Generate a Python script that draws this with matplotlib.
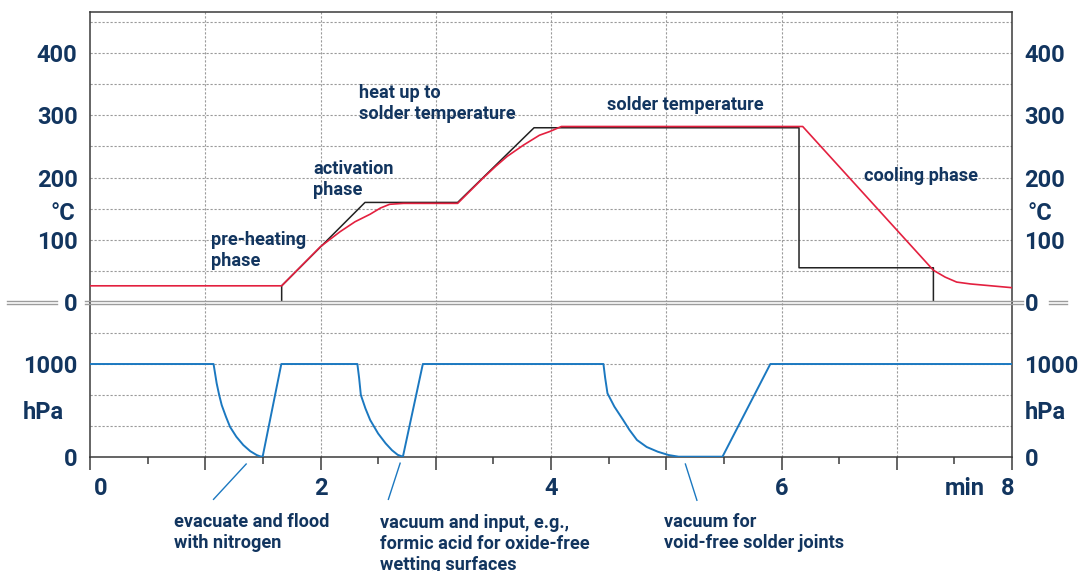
import matplotlib
matplotlib.use("Agg")
import matplotlib.pyplot as plt
from matplotlib.lines import Line2D

# ---------------- data ----------------
setpoint_t = [1.663, 1.663, 2.386, 3.19, 3.853, 6.152, 6.152, 7.318, 7.318]
setpoint_T = [0, 26, 160, 160, 280, 280, 55, 55, 0]

actual_t = [0, 1.663, 1.85, 2.0, 2.17, 2.3, 2.43, 2.52, 2.6, 2.72, 3.19, 3.41,
            3.52, 3.62, 3.76, 3.9, 3.99, 4.09, 6.184, 7.318, 7.42, 7.52, 7.64, 8.0]
actual_T = [26, 26, 61, 89, 113, 129, 141, 151, 157, 158.5, 158.5, 199,
            218, 234, 252, 268, 274, 282, 282, 51, 40, 32, 29, 23]

pressure_t = [0, 1.072, 1.085, 1.099, 1.12, 1.143, 1.18, 1.215, 1.27, 1.33, 1.39,
              1.446, 1.475, 1.498, 1.66,
              2.32, 2.335, 2.35, 2.39, 2.431, 2.5, 2.565, 2.62, 2.67, 2.715, 2.888,
              4.455, 4.47, 4.49, 4.55, 4.626, 4.68, 4.746, 4.83, 4.926, 5.02, 5.107,
              5.488, 5.903, 8.0]
pressure_P = [1000, 1000, 900, 792, 670, 556, 430, 322, 215, 126, 60,
              18, 4, 0, 1000,
              1000, 850, 666, 520, 396, 250, 144, 70, 20, 0, 1000,
              1000, 850, 684, 540, 396, 290, 180, 105, 54, 18, 0,
              0, 1000, 1000]

temp_ticks = [0, 100, 200, 300, 400]
temp_labels = ["0", "100", "200", "300", "400"]
press_ticks = [0, 1000]
press_labels = ["0", "1000"]
x_label_vals = [0, 2, 4, 6, 8]
x_label_texts = ["0", "2", "4", "6", "8"]

top_notes = ["pre-heating\nphase", "activation\nphase",
             "heat up to\nsolder temperature", "solder temperature", "cooling phase"]
# (x, baseline of last line)
top_note_pos = [(1.05, 58), (1.937, 172), (2.334, 294), (4.486, 309), (6.716, 194)]

bottom_notes = ["evacuate and flood\nwith nitrogen",
                "vacuum and input, e.g.,\nformic acid for oxide-free\nwetting surfaces",
                "vacuum for\nvoid-free solder joints"]
bottom_note_pos = [(0.729, -990), (2.512, -1222), (4.977, -990)]
leader_start = [(1.355, -79), (2.691, -70), (5.166, -79)]
leader_end = [(1.072, -460), (2.589, -460), (5.266, -470)]

# ---------------- style ----------------
W, H = 1083, 571
NAVY = "#12355f"
RED = "#e3203f"
BLUE = "#1b78c0"
BLACK = "#222222"
FRAME = "#3a3a3a"
GRID = "#9a9a9a"
FONT = ["Roboto", "DejaVu Sans"]
WEIGHT = "bold"
NOTE_SIZE = 13.1
plt.rcParams["font.family"] = FONT

fig = plt.figure(figsize=(W / 100, H / 100), dpi=100)

def fx(px):
    return px / W

def fy(py):
    return 1 - py / H

left, right = 90, 1012
ax_t = fig.add_axes([fx(left), fy(302), fx(right - left), (302 - 12) / H])
ax_b = fig.add_axes([fx(left), fy(456.7), fx(right - left), (456.7 - 302) / H])

# ---- top panel ----
ax_t.set_xlim(0, 8)
ax_t.set_ylim(0, 466)
ax_t.plot(setpoint_t, setpoint_T, color=BLACK, lw=1.1, zorder=3)
ax_t.plot(actual_t, actual_T, color=RED, lw=1.2, zorder=4)
for v in range(50, 460, 50):
    ax_t.axhline(v, color=GRID, lw=0.8, ls=(0, (2, 1.6)), zorder=1)
for v in range(1, 8):
    ax_t.axvline(v, color=GRID, lw=0.8, ls=(0, (2, 1.6)), zorder=1)
for s in ["top", "left", "right"]:
    ax_t.spines[s].set_color(FRAME)
    ax_t.spines[s].set_linewidth(1.1)
ax_t.spines["bottom"].set_visible(False)
ax_t.set_xticks([])
ax_t.set_yticks(temp_ticks)
ax_t.set_yticklabels(temp_labels)
ax_t.tick_params(axis="y", length=0, pad=9.0, labelleft=True, labelright=True,
                 labelsize=17, labelcolor=NAVY)
for tk in ax_t.yaxis.get_major_ticks():
    tk.label1.set_fontweight(WEIGHT)
    tk.label2.set_fontweight(WEIGHT)
for txt, (tx, ty) in zip(top_notes, top_note_pos):
    ax_t.text(tx, ty, txt, color=NAVY, fontsize=NOTE_SIZE, fontweight=WEIGHT,
              ha="left", va="baseline", linespacing=1.22, zorder=5)

# ---- bottom panel ----
ax_b.set_xlim(0, 8)
ax_b.set_ylim(0, 1669)
ax_b.plot(pressure_t, pressure_P, color=BLUE, lw=1.4, zorder=4)
for v in [1000 / 3, 2000 / 3, 1000, 4000 / 3]:
    ax_b.axhline(v, color=GRID, lw=0.8, ls=(0, (2, 1.6)), zorder=1)
for v in range(1, 8):
    ax_b.axvline(v, color=GRID, lw=0.8, ls=(0, (2, 1.6)), zorder=1)
ax_b.spines["top"].set_visible(False)
for s in ["bottom", "left", "right"]:
    ax_b.spines[s].set_color(FRAME)
    ax_b.spines[s].set_linewidth(1.1)
ax_b.set_xticks(range(0, 9))
ax_b.set_xticks([i + 0.5 for i in range(8)], minor=True)
ax_b.set_xticklabels([])
ax_b.tick_params(axis="x", which="major", direction="out", length=9.5, width=1.1, color=FRAME)
ax_b.tick_params(axis="x", which="minor", direction="out", length=5, width=1.1, color=FRAME)
ax_b.set_yticks(press_ticks)
ax_b.set_yticklabels(press_labels)
ax_b.tick_params(axis="y", length=0, pad=9.0, labelleft=True, labelright=True,
                 labelsize=17, labelcolor=NAVY)
for tk in ax_b.yaxis.get_major_ticks():
    tk.label1.set_fontweight(WEIGHT)
    tk.label2.set_fontweight(WEIGHT)

# x labels
offs = [0.09, 0, 0, 0, -0.035]
for v, t, o in zip(x_label_vals, x_label_texts, offs):
    ax_b.text(v + o, -416, t, color=NAVY, fontsize=17, fontweight=WEIGHT,
              ha="center", va="baseline", clip_on=False)
ax_b.text(7.59, -416, "min", color=NAVY, fontsize=17, fontweight=WEIGHT,
          ha="center", va="baseline", clip_on=False)

# leader lines and notes
for (x0, y0), (x1, y1) in zip(leader_start, leader_end):
    ax_b.add_line(Line2D([x0, x1], [y0, y1], color=BLUE, lw=1.0, clip_on=False))
for txt, (tx, ty) in zip(bottom_notes, bottom_note_pos):
    ax_b.text(tx, ty, txt, color=NAVY, fontsize=NOTE_SIZE, fontweight=WEIGHT,
              ha="left", va="baseline", linespacing=1.22, clip_on=False)

# unit labels
for x, y, t in [(63, 210.7, "°C"), (1040, 210.7, "°C"), (43, 410, "hPa"), (1045, 410, "hPa")]:
    fig.text(fx(x), fy(y), t, color=NAVY, fontsize=17, fontweight=WEIGHT,
             ha="center", va="center_baseline")

# double separator line
for ypx in (300.6, 303.6):
    for x0, x1 in [(7, 57), (85, 1023), (1049, 1067)]:
        fig.add_artist(Line2D([fx(x0), fx(x1)], [fy(ypx), fy(ypx)],
                              transform=fig.transFigure, color="#9c9c9c", lw=1.0))

fig.savefig("out.png", dpi=100)
